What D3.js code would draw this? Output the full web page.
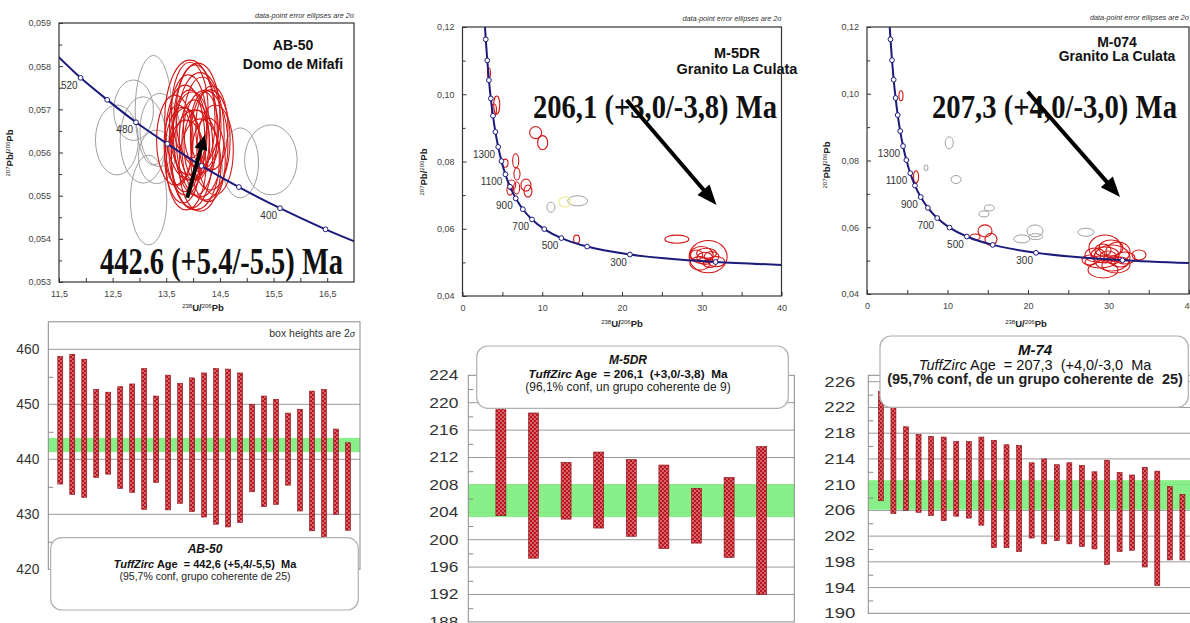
<!DOCTYPE html>
<html>
<head>
<meta charset="utf-8">
<script src="https://cdn.jsdelivr.net/npm/d3@7"></script>
<style>
  body { margin: 0; background: #fff; }
  svg { display: block; }
  text { white-space: pre; }
</style>
</head>
<body>
<svg id="chart" width="1190" height="623"></svg>
<script>
const FONT = "Arial, 'Liberation Sans', Helvetica, sans-serif";
const SERIF = "'Times New Roman', 'Liberation Serif', Times, serif";

// ---------- concordia curves (238U/206Pb, 207Pb/206Pb, age Ma) ----------
const ab50Concordia = [
  [11.445, 0.05827, 540], [11.903, 0.05773, 520], [12.399, 0.05722, 500], [12.936, 0.05670, 480],
  [13.520, 0.05620, 460], [14.157, 0.05569, 440], [14.854, 0.05520, 420], [15.621, 0.05471, 400],
  [16.469, 0.05422, 380], [17.411, 0.05374, 360]
];
const ab50Marks = [520, 500, 480, 460, 440, 420, 400, 380];
const ab50AgeLabels = [520, 480, 400];

const culataConcordia = [
  [2.749, 0.12301, 2000], [2.917, 0.11632, 1900], [3.105, 0.11006, 1800], [3.314, 0.10420, 1700],
  [3.550, 0.09873, 1600], [3.817, 0.09361, 1500], [4.123, 0.08881, 1400], [4.476, 0.08433, 1300],
  [4.887, 0.08012, 1200], [5.374, 0.07619, 1100], [5.959, 0.07250, 1000], [6.674, 0.06904, 900],
  [7.568, 0.06580, 800], [8.718, 0.06276, 700], [10.252, 0.05990, 600], [12.399, 0.05722, 500],
  [15.621, 0.05471, 400], [20.992, 0.05234, 300], [25.290, 0.05120, 250], [31.735, 0.05011, 200],
  [42.480, 0.04904, 150]
];
const culataMarks = [1900, 1800, 1700, 1600, 1500, 1400, 1300, 1200, 1100, 1000, 900, 800, 700, 600, 500, 400, 300, 200];
const culataAgeLabels = [1300, 1100, 900, 700, 500, 300];

// ---------- error ellipses: [x, y, half-width x, half-height y] ----------
const ab50Red = [
  [13.94, 0.05675, 0.47, 0.00139], [14.04, 0.05652, 0.41, 0.00151], [13.85, 0.05629, 0.37, 0.00127],
  [14.13, 0.05641, 0.45, 0.00144], [13.98, 0.05606, 0.39, 0.00134], [14.22, 0.05617, 0.43, 0.00127],
  [13.91, 0.05664, 0.35, 0.00116], [14.09, 0.05687, 0.41, 0.00120], [13.81, 0.05594, 0.34, 0.00111],
  [14.32, 0.05629, 0.37, 0.00116], [14.04, 0.05583, 0.45, 0.00116], [13.94, 0.05641, 0.32, 0.00104],
  [14.17, 0.05664, 0.35, 0.00111], [13.66, 0.05629, 0.34, 0.00104], [14.41, 0.05606, 0.34, 0.00104],
  [13.87, 0.05571, 0.37, 0.00104], [14.13, 0.05571, 0.39, 0.00107], [14.02, 0.05629, 0.28, 0.00093],
  [14.28, 0.05583, 0.32, 0.00097], [13.72, 0.05617, 0.26, 0.00093], [14.07, 0.05617, 0.24, 0.00081],
  [14.21, 0.05652, 0.26, 0.00088], [13.94, 0.05698, 0.34, 0.00111], [14.35, 0.05657, 0.30, 0.00097],
  [13.85, 0.05606, 0.30, 0.00097]
];
const ab50Gray = [
  [12.58, 0.05629, 0.40, 0.00081], [13.17, 0.05490, 0.34, 0.00104], [13.26, 0.05698, 0.34, 0.00127],
  [13.07, 0.05629, 0.43, 0.00100], [13.32, 0.05590, 0.34, 0.00062], [14.88, 0.05576, 0.34, 0.00081],
  [15.45, 0.05583, 0.49, 0.00081], [12.89, 0.05698, 0.37, 0.00070], [13.38, 0.05652, 0.37, 0.00085]
];

const m5drRed = [
  [3.32, 0.1063, 0.19, 0.0015], [4.29, 0.0968, 0.38, 0.0027], [3.95, 0.0953, 0.31, 0.0018],
  [9.17, 0.0886, 0.75, 0.0018], [10.05, 0.0856, 0.63, 0.0021], [5.33, 0.0795, 0.38, 0.0012],
  [6.67, 0.0802, 0.38, 0.0021], [6.83, 0.0763, 0.38, 0.0018], [6.17, 0.0730, 0.50, 0.0015],
  [5.95, 0.0715, 0.38, 0.0015], [6.79, 0.0721, 0.38, 0.0018], [7.96, 0.0730, 0.63, 0.0018],
  [8.21, 0.0712, 0.50, 0.0018], [14.31, 0.0569, 0.38, 0.0012], [26.88, 0.0569, 1.50, 0.0012],
  [30.80, 0.0517, 2.38, 0.0048], [29.97, 0.0522, 1.46, 0.0025], [30.39, 0.0512, 1.00, 0.0018],
  [31.23, 0.0517, 0.92, 0.0015], [31.85, 0.0502, 1.04, 0.0015], [29.76, 0.0497, 1.25, 0.0020],
  [31.02, 0.0497, 0.83, 0.0012], [29.35, 0.0522, 0.75, 0.0015], [30.60, 0.0527, 1.25, 0.0015]
];
const m5drGray = [[11.09, 0.0664, 0.50, 0.0015], [14.44, 0.0683, 1.25, 0.0015]];
const m5drYellow = [[12.84, 0.0680, 0.75, 0.0015]];

const m074Red = [
  [4.22, 0.0994, 0.25, 0.0015], [6.09, 0.0751, 0.31, 0.0018], [14.66, 0.0589, 0.87, 0.0018],
  [15.40, 0.0564, 0.75, 0.0018], [13.42, 0.0571, 0.62, 0.0009],
  [30.43, 0.0508, 2.24, 0.0039], [29.57, 0.0517, 1.74, 0.0024], [31.18, 0.0526, 1.49, 0.0030],
  [28.95, 0.0496, 1.86, 0.0018], [32.05, 0.0508, 1.24, 0.0018], [30.31, 0.0538, 1.49, 0.0024],
  [30.93, 0.0487, 1.74, 0.0024], [28.32, 0.0517, 1.24, 0.0021], [33.79, 0.0517, 0.87, 0.0015],
  [29.94, 0.0514, 1.00, 0.0015], [31.43, 0.0496, 1.12, 0.0015], [29.32, 0.0532, 1.00, 0.0018],
  [30.56, 0.0502, 0.75, 0.0012], [27.70, 0.0502, 1.00, 0.0015], [29.57, 0.0538, 2.00, 0.0039],
  [29.32, 0.0472, 1.86, 0.0024]
];
const m074Gray = [
  [10.22, 0.0853, 0.50, 0.0018], [7.33, 0.0778, 0.25, 0.0009], [11.06, 0.0743, 0.62, 0.0012],
  [14.53, 0.0640, 0.62, 0.0009], [15.19, 0.0658, 0.62, 0.0009], [19.22, 0.0565, 1.00, 0.0012],
  [20.87, 0.0589, 1.00, 0.0018], [20.96, 0.0572, 0.87, 0.0009], [27.20, 0.0585, 1.00, 0.0012]
];

// ---------- arrows (data units, from -> to) ----------
const ab50Arrow = [[13.89, 0.05495], [14.22, 0.05641]];
const m5drArrow = [[20.58, 0.0983], [31.85, 0.0671]];
const m074Arrow = [[19.96, 0.1006], [31.43, 0.0691]];

// ---------- TuffZirc box heights (Ma) ----------
const ab50Hi = [458.7, 459.1, 458.2, 452.7, 452.2, 453.2, 453.7, 456.5, 451.5, 455.3, 453.8, 454.8, 455.7,
                456.5, 456.4, 455.7, 450.0, 451.5, 450.9, 448.4, 449.1, 452.4, 452.7, 445.5, 443.0];
const ab50Lo = [435.5, 433.6, 433.1, 436.7, 437.3, 434.7, 434.0, 430.9, 435.8, 430.8, 432.0, 430.5, 429.5,
                428.2, 427.7, 428.5, 434.1, 431.4, 431.8, 435.3, 430.6, 427.0, 425.7, 430.0, 427.1];
const ab50Band = [441.3, 443.9];

const m5drHi = [222.0, 218.5, 211.3, 212.8, 211.7, 210.9, 207.5, 209.1, 213.6];
const m5drLo = [203.5, 197.3, 203.0, 201.7, 200.5, 198.7, 199.5, 197.4, 192.0];
const m5drBand = [203.3, 208.1];

const m74Hi = [224.5, 223.0, 219.0, 217.8, 217.5, 217.4, 216.7, 216.7, 217.4, 216.9, 216.2, 216.1, 213.4,
               214.0, 213.1, 213.4, 213.0, 212.0, 213.8, 211.9, 211.5, 212.7, 212.1, 209.7, 208.5];
const m74Lo = [207.5, 205.5, 206.0, 205.7, 205.2, 204.4, 205.1, 204.8, 203.7, 200.2, 200.2, 199.6, 201.7,
               200.8, 201.3, 200.8, 200.4, 200.0, 197.6, 199.6, 199.8, 197.2, 194.3, 198.3, 198.3];
const m74Band = [206.1, 210.7];

// ---------- tick values ----------
const ab50XLabels = [11.5, 12.5, 13.5, 14.5, 15.5, 16.5];
const ab50XMinor = [12, 13, 14, 15, 16];
const ab50YLabels = [0.053, 0.054, 0.055, 0.056, 0.057, 0.058, 0.059];
const ab50YMinor = [0.0535, 0.0545, 0.0555, 0.0565, 0.0575, 0.0585];
const culataXLabels = [0, 10, 20, 30, 40];
const culataXMinor = [5, 15, 25, 35];
const culataYLabels = [0.04, 0.06, 0.08, 0.10, 0.12];
const culataYMinor = [0.05, 0.07, 0.09, 0.11];

const ab50AgeTicks = [420, 430, 440, 450, 460];
const ab50AgeMinor = [425, 435, 445, 455];
const m5drAgeTicks = [188, 192, 196, 200, 204, 208, 212, 216, 220, 224];
const m5drAgeMinor = [190, 194, 198, 202, 206, 210, 214, 218, 222];
const m74AgeTicks = [190, 194, 198, 202, 206, 210, 214, 218, 222, 226];
const m74AgeMinor = [192, 196, 200, 204, 208, 212, 216, 220, 224];

// ---------- texts ----------
const ab50Title = ["AB-50", "Domo de Mifafi"];
const m5drTitle = ["M-5DR", "Granito La Culata"];
const m074Title = ["M-074", "Granito La Culata"];
const ab50AgeText = "442.6 (+5.4/-5.5) Ma";
const m5drAgeText = "206,1 (+3,0/-3,8) Ma";
const m074AgeText = "207,3 (+4,0/-3,0) Ma";
const ab50Box = ["AB-50", " Age  = 442,6 (+5,4/-5,5)  Ma", "(95,7% conf, grupo coherente de 25)"];
const m5drBox = ["M-5DR", " Age  = 206,1  (+3,0/-3,8)  Ma", "(96,1% conf, un grupo coherente de 9)"];
const m74Box = ["M-74", " Age  = 207,3  (+4,0/-3,0  Ma", "(95,7% conf, de un grupo coherente de  25)"];

const svg = d3.select("#chart");
const defs = svg.append("defs");

const pat = defs.append("pattern").attr("id", "dots")
  .attr("width", 4).attr("height", 4).attr("patternUnits", "userSpaceOnUse");
pat.append("rect").attr("width", 4).attr("height", 4).attr("fill", "#bb1422");
pat.append("circle").attr("cx", 1).attr("cy", 1).attr("r", 0.8).attr("fill", "#f6cbbd");
pat.append("circle").attr("cx", 3).attr("cy", 3).attr("r", 0.8).attr("fill", "#f6cbbd");

const comma = f => d => d3.format(f)(d).replace(".", ",");

function isoTitle(g, x, y, mass1, el1, mass2, el2, rotate) {
  const t = g.append("text").attr("x", x).attr("y", y)
    .attr("text-anchor", "middle").attr("font-family", FONT).attr("fill", "#222");
  if (rotate) t.attr("transform", `rotate(-90,${x},${y})`);
  t.append("tspan").attr("font-size", 6).attr("baseline-shift", "super").text(mass1);
  t.append("tspan").attr("font-size", 9.5).attr("font-weight", "bold").text(el1 + "/");
  t.append("tspan").attr("font-size", 6).attr("baseline-shift", "super").text(mass2);
  t.append("tspan").attr("font-size", 9.5).attr("font-weight", "bold").text(el2);
}

function drawArrow(g, a, b, w, hl, hw) {
  const dx = b[0] - a[0], dy = b[1] - a[1], L = Math.hypot(dx, dy);
  const ux = dx / L, uy = dy / L;
  const bx = b[0] - ux * hl, by = b[1] - uy * hl;
  g.append("line").attr("x1", a[0]).attr("y1", a[1]).attr("x2", bx + ux * 2).attr("y2", by + uy * 2)
    .attr("stroke", "#000").attr("stroke-width", w);
  g.append("path")
    .attr("d", `M${b[0]},${b[1]}L${bx - uy * hw / 2},${by + ux * hw / 2}L${bx + uy * hw / 2},${by - ux * hw / 2}Z`)
    .attr("fill", "#000");
}

function concordiaPanel(o) {
  const x = d3.scaleLinear().domain(o.xDomain).range([o.left, o.right]);
  const y = d3.scaleLinear().domain(o.yDomain).range([o.bottom, o.top]);
  const g = svg.append("g");

  defs.append("clipPath").attr("id", "clip-" + o.id).append("rect")
    .attr("x", o.left).attr("y", o.top).attr("width", o.right - o.left).attr("height", o.bottom - o.top);
  const inner = g.append("g").attr("clip-path", `url(#clip-${o.id})`);

  const ellipses = (data, color, w) => inner.append("g").selectAll("ellipse").data(data).join("ellipse")
    .attr("cx", d => x(d[0])).attr("cy", d => y(d[1]))
    .attr("rx", d => x(d[0] + d[2]) - x(d[0])).attr("ry", d => y(d[1]) - y(d[1] + d[3]))
    .attr("fill", "none").attr("stroke", color).attr("stroke-width", w);
  ellipses(o.gray, "#a0a0a0", 1);
  if (o.yellow) ellipses(o.yellow, "#ecec9a", 1.2);
  ellipses(o.red, "#d31616", 1.1);

  const line = d3.line().x(d => x(d[0])).y(d => y(d[1])).curve(d3.curveCatmullRom);
  inner.append("path").datum(o.curve).attr("d", line)
    .attr("fill", "none").attr("stroke", "#1b1b7c").attr("stroke-width", 2);
  const byAge = new Map(o.curve.map(d => [d[2], d]));
  inner.append("g").selectAll("circle").data(o.marks.map(a => byAge.get(a))).join("circle")
    .attr("cx", d => x(d[0])).attr("cy", d => y(d[1])).attr("r", 2.4)
    .attr("fill", "#fff").attr("stroke", "#1b1b7c").attr("stroke-width", 1);
  g.append("g").selectAll("text").data(o.ageLabels.map(a => byAge.get(a))).join("text")
    .attr("x", d => x(d[0]) - 3).attr("y", d => y(d[1]) + 11)
    .attr("text-anchor", "end").attr("font-family", FONT).attr("font-size", 10).attr("fill", "#333")
    .text(d => d[2]);

  // big age annotation
  g.append("text").attr("x", o.big.x).attr("y", o.big.y)
    .attr("font-family", SERIF).attr("font-weight", "bold").attr("font-size", o.big.size)
    .attr("textLength", o.big.len).attr("lengthAdjust", "spacingAndGlyphs").attr("fill", "#111")
    .text(o.ageText);
  drawArrow(g, [x(o.arrow[0][0]), y(o.arrow[0][1])], [x(o.arrow[1][0]), y(o.arrow[1][1])], o.arrowW, o.headL, o.headW);

  // sample title
  o.title.forEach((t, i) => g.append("text").attr("x", o.tx).attr("y", o.ty[i])
    .attr("text-anchor", "middle").attr("font-family", FONT).attr("font-weight", "bold")
    .attr("font-size", o.tsize).attr("fill", "#111").text(t));

  // note
  const note = g.append("text").attr("x", o.right).attr("y", o.noteY).attr("text-anchor", "end")
    .attr("font-family", FONT).attr("font-style", "italic").attr("font-size", 7.3).attr("fill", "#333")
    .text("data-point error ellipses are 2");
  note.append("tspan").attr("font-family", "'Liberation Serif', serif").attr("font-size", 8.5).text("σ");

  g.append("rect").attr("x", o.left).attr("y", o.top).attr("width", o.right - o.left).attr("height", o.bottom - o.top)
    .attr("fill", "none").attr("stroke", "#333").attr("stroke-width", 1.2);

  const style = a => {
    a.select(".domain").remove();
    a.attr("font-family", FONT);
    a.selectAll("line").attr("stroke", "#333");
    a.selectAll("text").attr("font-size", 9).attr("fill", "#444");
  };
  g.append("g").attr("transform", `translate(0,${o.bottom})`)
    .call(d3.axisBottom(x).tickValues(o.xLabels).tickSizeInner(-4).tickSizeOuter(0).tickPadding(9).tickFormat(o.xFmt))
    .call(style);
  g.append("g").attr("transform", `translate(0,${o.bottom})`)
    .call(d3.axisBottom(x).tickValues(o.xMinor).tickSizeInner(-4).tickSizeOuter(0).tickFormat(""))
    .call(style);
  g.append("g").attr("transform", `translate(${o.left},0)`)
    .call(d3.axisLeft(y).tickValues(o.yLabels).tickSizeInner(-4).tickSizeOuter(0).tickPadding(o.yPad).tickFormat(o.yFmt))
    .call(style);
  g.append("g").attr("transform", `translate(${o.left},0)`)
    .call(d3.axisLeft(y).tickValues(o.yMinor).tickSizeInner(-3).tickSizeOuter(0).tickFormat(""))
    .call(style);

  isoTitle(g, o.xTitle[0], o.xTitle[1], "238", "U", "206", "Pb", false);
  isoTitle(g, o.yTitle[0], o.yTitle[1], "207", "Pb", "206", "Pb", true);
}

function boxPanel(o) {
  const y = d3.scaleLinear().domain(o.domain).range([o.bottom, o.top]);
  const x = d3.scalePoint().domain(d3.range(o.hi.length)).range([o.left, o.right]).padding(1);
  const g = svg.append("g");
  const yTop = y(o.domain[1]);

  g.append("g").selectAll("line").data(o.grid).join("line")
    .attr("x1", o.left).attr("x2", o.right).attr("y1", d => y(d)).attr("y2", d => y(d))
    .attr("stroke", "#9a9a9a").attr("stroke-width", 1);
  g.append("rect").attr("x", o.left).attr("width", o.right - o.left)
    .attr("y", y(o.band[1])).attr("height", y(o.band[0]) - y(o.band[1]))
    .attr("fill", "#7fee7f").attr("opacity", 0.92);
  g.append("g").selectAll("rect").data(o.hi.map((h, i) => [i, o.lo[i], h])).join("rect")
    .attr("x", d => x(d[0]) - o.barW / 2).attr("width", o.barW)
    .attr("y", d => y(d[2])).attr("height", d => y(d[1]) - y(d[2]))
    .attr("fill", "url(#dots)").attr("stroke", "#8a0c14").attr("stroke-width", 0.6);

  g.append("rect").attr("x", o.left).attr("y", yTop).attr("width", o.right - o.left)
    .attr("height", y(o.domain[0]) - yTop).attr("fill", "none").attr("stroke", "#8a8a8a").attr("stroke-width", 1);

  g.append("g").attr("transform", `translate(${o.left},0)`)
    .call(d3.axisLeft(y).tickValues(o.ticks).tickSize(0).tickPadding(o.pad))
    .call(a => a.select(".domain").remove())
    .call(a => a.selectAll("text").attr("font-family", FONT).attr("font-size", 14).attr("fill", "#333")
      .attr("textLength", o.labelLen).attr("lengthAdjust", "spacingAndGlyphs"));
  g.append("g").attr("transform", `translate(${o.left},0)`)
    .call(d3.axisLeft(y).tickValues(o.minor).tickSizeInner(-5).tickSizeOuter(0).tickFormat(""))
    .call(a => a.select(".domain").remove())
    .call(a => a.selectAll("line").attr("stroke", "#8a8a8a"));

  if (o.note) {
    const n = g.append("text").attr("x", o.right - 5).attr("y", yTop + 15).attr("text-anchor", "end")
      .attr("font-family", FONT).attr("font-size", 10.5).attr("fill", "#333").text("box heights are 2");
    n.append("tspan").attr("font-family", "'Liberation Serif', serif").attr("font-style", "italic").text("σ");
  }

  const b = o.box;
  g.append("rect").attr("x", b.x0).attr("y", b.y0).attr("width", b.x1 - b.x0).attr("height", b.y1 - b.y0)
    .attr("rx", 11).attr("fill", "#fff").attr("stroke", "#b0b0b0").attr("stroke-width", 1.2);
  g.append("text").attr("x", b.cx).attr("y", b.ly[0]).attr("text-anchor", "middle")
    .attr("font-family", FONT).attr("font-weight", "bold").attr("font-style", "italic")
    .attr("font-size", b.sizes[0]).attr("fill", "#111").text(o.lines[0]);
  const t2 = g.append("text").attr("x", b.cx).attr("y", b.ly[1]).attr("text-anchor", "middle")
    .attr("font-family", FONT).attr("font-weight", b.weights[1]).attr("font-size", b.sizes[1]).attr("fill", "#111");
  t2.append("tspan").attr("font-style", "italic").text("TuffZirc");
  t2.append("tspan").text(o.lines[1]);
  g.append("text").attr("x", b.cx).attr("y", b.ly[2]).attr("text-anchor", "middle")
    .attr("font-family", FONT).attr("font-weight", b.weights[2]).attr("font-size", b.sizes[2]).attr("fill", "#222")
    .text(o.lines[2]);
}

// ---------- top row: concordia diagrams ----------
concordiaPanel({
  id: "ab50", left: 59, right: 354, top: 23, bottom: 282,
  xDomain: [11.5, 17], yDomain: [0.053, 0.059],
  xLabels: ab50XLabels, xMinor: ab50XMinor, yLabels: ab50YLabels, yMinor: ab50YMinor,
  xFmt: comma(".1f"), yFmt: comma(".3f"), yPad: 8,
  curve: ab50Concordia, marks: ab50Marks, ageLabels: ab50AgeLabels,
  red: ab50Red, gray: ab50Gray,
  arrow: ab50Arrow, arrowW: 4, headL: 15, headW: 13,
  ageText: ab50AgeText, big: { x: 100, y: 274, size: 38, len: 243 },
  title: ab50Title, tx: 293, ty: [50, 68.5], tsize: 14,
  noteY: 17.5, xTitle: [203, 311], yTitle: [13, 153]
});
concordiaPanel({
  id: "m5dr", left: 462.5, right: 781.5, top: 27, bottom: 296,
  xDomain: [0, 40], yDomain: [0.04, 0.12],
  xLabels: culataXLabels, xMinor: culataXMinor, yLabels: culataYLabels, yMinor: culataYMinor,
  xFmt: d3.format("d"), yFmt: comma(".2f"), yPad: 8,
  curve: culataConcordia, marks: culataMarks, ageLabels: culataAgeLabels,
  red: m5drRed, gray: m5drGray, yellow: m5drYellow,
  arrow: m5drArrow, arrowW: 4, headL: 20, headW: 16,
  ageText: m5drAgeText, big: { x: 533, y: 118, size: 33, len: 244 },
  title: m5drTitle, tx: 737, ty: [58, 74], tsize: 14.5,
  noteY: 21, xTitle: [622, 327], yTitle: [427, 172]
});
concordiaPanel({
  id: "m074", left: 867, right: 1189, top: 27, bottom: 294,
  xDomain: [0, 40], yDomain: [0.04, 0.12],
  xLabels: culataXLabels, xMinor: culataXMinor, yLabels: culataYLabels, yMinor: culataYMinor,
  xFmt: d3.format("d"), yFmt: comma(".2f"), yPad: 8,
  curve: culataConcordia, marks: culataMarks, ageLabels: culataAgeLabels,
  red: m074Red, gray: m074Gray,
  arrow: m074Arrow, arrowW: 4, headL: 20, headW: 16,
  ageText: m074AgeText, big: { x: 932, y: 118, size: 33, len: 245 },
  title: m074Title, tx: 1117, ty: [47, 61], tsize: 14,
  noteY: 20, xTitle: [1026, 327], yTitle: [830, 165]
});

// ---------- bottom row: TuffZirc age plots ----------
boxPanel({
  left: 48.3, right: 360, top: 321.8, bottom: 569.3, domain: [420, 465],
  ticks: ab50AgeTicks, minor: ab50AgeMinor, grid: [430, 440, 450, 460], pad: 9, labelLen: 23,
  hi: ab50Hi, lo: ab50Lo, band: ab50Band, barW: 5, note: true, lines: ab50Box,
  box: { x0: 50.7, x1: 358.3, y0: 537.7, y1: 610, cx: 205, ly: [553, 567.5, 580],
         sizes: [12, 11, 10.5], weights: ["bold", "bold", "normal"] }
});
boxPanel({
  left: 468.3, right: 794.3, top: 375.3, bottom: 621.9, domain: [188, 224],
  ticks: m5drAgeTicks, minor: m5drAgeMinor, grid: [192, 196, 200, 204, 208, 212, 216, 220], pad: 10, labelLen: 29,
  hi: m5drHi, lo: m5drLo, band: m5drBand, barW: 10, lines: m5drBox,
  box: { x0: 476.7, x1: 788.3, y0: 346, y1: 408.3, cx: 628, ly: [363.5, 377.5, 391],
         sizes: [12, 11.8, 12], weights: ["bold", "bold", "normal"] }
});
boxPanel({
  left: 868.3, right: 1195, top: 375.3, bottom: 613.3, domain: [190, 227],
  ticks: m74AgeTicks, minor: m74AgeMinor, grid: [194, 198, 202, 206, 210, 214, 218, 222, 226], pad: 13, labelLen: 31,
  hi: m74Hi, lo: m74Lo, band: m74Band, barW: 5, lines: m74Box,
  box: { x0: 880, x1: 1188.3, y0: 336, y1: 407.3, cx: 1035, ly: [355, 369.5, 383.5],
         sizes: [15, 14.5, 14.5], weights: ["bold", "normal", "bold"] }
});
</script>
</body>
</html>
